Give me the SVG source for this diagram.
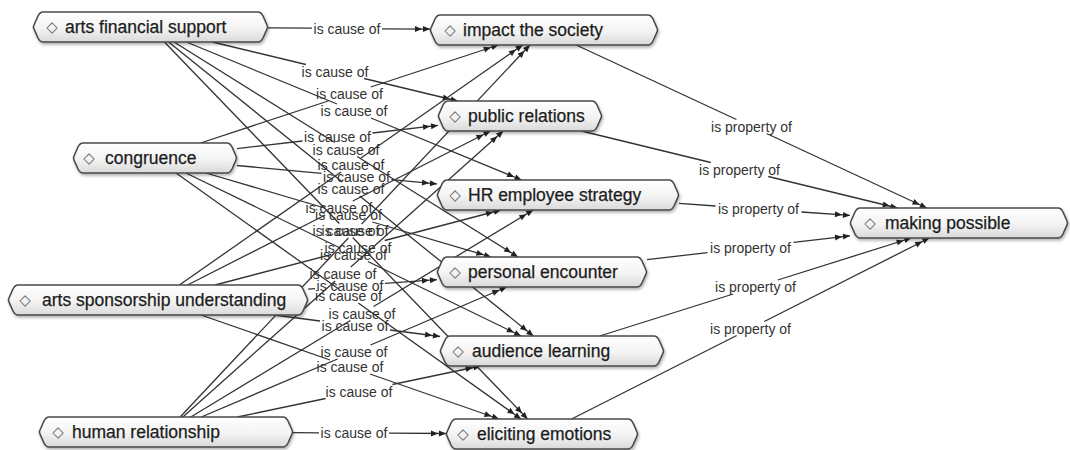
<svg xmlns="http://www.w3.org/2000/svg" width="1070" height="450" viewBox="0 0 1070 450">
  <style>
    .conn path { fill: none; stroke: #333; stroke-width: 1.3; }
    .conn path.a { marker-end: url(#arr); }
    .lbl { font-family: "Liberation Sans", Arial, sans-serif; font-size: 14px; fill: #333; text-anchor: middle; }
    .box { fill: url(#nodeFill); stroke: #4a4a4a; stroke-width: 1.6; stroke-linejoin: round; filter: url(#shadow); }
    .name { font-family: "Liberation Sans", Arial, sans-serif; font-size: 17.5px; fill: #1c1c1c; stroke: #1c1c1c; stroke-width: 0.25; }
    .icon { font-family: "DejaVu Sans", sans-serif; font-size: 15px; fill: #666; text-anchor: middle; }
  </style>
  <defs>
    <linearGradient id="nodeFill" x1="0" y1="0" x2="0" y2="1">
      <stop offset="0" stop-color="#ffffff"/>
      <stop offset="0.55" stop-color="#f3f3f3"/>
      <stop offset="1" stop-color="#d9d9d9"/>
    </linearGradient>
    <filter id="shadow" x="-5%" y="-20%" width="110%" height="160%">
      <feDropShadow dx="1" dy="2" stdDeviation="1.5" flood-color="#000" flood-opacity="0.3"/>
    </filter>
    <marker id="arr" viewBox="-16 -4 17 8" refX="0" refY="0" markerWidth="17" markerHeight="8" orient="auto" markerUnits="userSpaceOnUse">
      <path d="M0,0 L-7,-3 L-7,3 Z M-8,0 L-15,-3 L-15,3 Z" fill="#222"/>
    </marker>
  </defs>
  <rect width="1070" height="450" fill="#ffffff"/>

  <!-- connectors: each link is split around its label -->
  <g id="connectors" class="conn">
    <!-- arts financial support -->
    <path d="M268,27.9 L312,28.2"/><path class="a" d="M382,28.8 L430,29.1"/>
    <path d="M212.3,42 L305.9,64.5"/><path class="a" d="M364.1,78.5 L457.7,101"/>
    <path d="M186.4,42 L337,104"/><path class="a" d="M371,118 L521.6,180"/>
    <path d="M174,42 L334.8,142.5"/><path class="a" d="M357.2,156.5 L518,257"/>
    <path d="M168.6,42 L342.3,182"/><path class="a" d="M359.7,196 L533.4,336"/>
    <path d="M164.4,42 L339.3,223.5"/><path class="a" d="M352.7,237.5 L527.6,419"/>
    <!-- congruence -->
    <path d="M200.6,143 L328.2,101"/><path class="a" d="M370.8,87 L498.4,45"/>
    <path d="M237,148.6 L302.5,141"/><path class="a" d="M372.5,133 L438,125.4"/>
    <path d="M237,165.5 L321.5,173.3"/><path class="a" d="M391.5,179.7 L437,183.9"/>
    <path d="M205.9,173 L324.7,208"/><path class="a" d="M372.3,222 L491.1,257"/>
    <path d="M185.9,173 L339.1,247.5"/><path class="a" d="M367.9,261.5 L521.1,336"/>
    <path d="M176,173 L338.7,289"/><path class="a" d="M358.3,303 L521,419"/>
    <!-- arts sponsorship understanding -->
    <path d="M179.4,285 L341,172"/><path class="a" d="M361,158 L522.6,45"/>
    <path d="M187.5,285 L325.2,215"/><path class="a" d="M352.8,201 L490.5,131"/>
    <path d="M215.1,285 L331.3,254.5"/><path class="a" d="M384.7,240.5 L500.9,210"/>
    <path d="M308,289.1 L315,288.6"/><path class="a" d="M385,283.4 L437,279.7"/>
    <path d="M273.9,315 L320,321"/><path class="a" d="M390,330 L440,336.5"/>
    <path d="M201,315 L330,360"/><path class="a" d="M370,374 L499,419"/>
    <!-- human relationship -->
    <path d="M180.1,417 L348.4,238"/><path class="a" d="M361.6,224 L529.9,45"/>
    <path d="M182.8,417 L335.2,281"/><path class="a" d="M350.8,267 L503.2,131"/>
    <path d="M190.8,417 L350.4,320.5"/><path class="a" d="M373.6,306.5 L533.2,210"/>
    <path d="M201.3,417 L337.5,359"/><path class="a" d="M370.5,345 L506.7,287"/>
    <path d="M237.5,417 L325.6,398.5"/><path class="a" d="M392.4,384.5 L480.5,366"/>
    <path d="M293,432.7 L319,432.8"/><path class="a" d="M389,433.2 L446,433.5"/>
    <!-- into making possible -->
    <path d="M576.2,45 L736.4,119.5"/><path class="a" d="M766.6,133.5 L926.8,208"/>
    <path d="M581.5,131 L710.8,162.5"/><path class="a" d="M768.2,176.5 L897.5,208"/>
    <path d="M679,203.4 L715.5,206"/><path class="a" d="M801.5,212 L850,215.4"/>
    <path d="M647,259.7 L707.5,252.6"/><path class="a" d="M793.5,242.4 L850,235.8"/>
    <path d="M599.7,336 L733.2,294"/><path class="a" d="M777.8,280 L911.3,238"/>
    <path d="M571.6,419 L736.7,335.5"/><path class="a" d="M764.3,321.5 L929.4,238"/>

    <!-- link labels -->
    <text class="lbl" x="347" y="33.5">is cause of</text>
    <text class="lbl" x="335" y="76.5">is cause of</text>
    <text class="lbl" x="354" y="116">is cause of</text>
    <text class="lbl" x="346" y="154.5">is cause of</text>
    <text class="lbl" x="351" y="194">is cause of</text>
    <text class="lbl" x="346" y="235.5">is cause of</text>
    <text class="lbl" x="349.5" y="99">is cause of</text>
    <text class="lbl" x="337.5" y="142">is cause of</text>
    <text class="lbl" x="356.5" y="181.5">is cause of</text>
    <text class="lbl" x="348.5" y="220">is cause of</text>
    <text class="lbl" x="353.5" y="259.5">is cause of</text>
    <text class="lbl" x="348.5" y="301">is cause of</text>
    <text class="lbl" x="351" y="170">is cause of</text>
    <text class="lbl" x="339" y="213">is cause of</text>
    <text class="lbl" x="358" y="252.5">is cause of</text>
    <text class="lbl" x="350" y="291">is cause of</text>
    <text class="lbl" x="355" y="330.5">is cause of</text>
    <text class="lbl" x="350" y="372">is cause of</text>
    <text class="lbl" x="355" y="236">is cause of</text>
    <text class="lbl" x="343" y="279">is cause of</text>
    <text class="lbl" x="362" y="318.5">is cause of</text>
    <text class="lbl" x="354" y="357">is cause of</text>
    <text class="lbl" x="359" y="396.5">is cause of</text>
    <text class="lbl" x="354" y="438">is cause of</text>
    <text class="lbl" x="751.5" y="131.5">is property of</text>
    <text class="lbl" x="739.5" y="174.5">is property of</text>
    <text class="lbl" x="758.5" y="214">is property of</text>
    <text class="lbl" x="750.5" y="252.5">is property of</text>
    <text class="lbl" x="755.5" y="292">is property of</text>
    <text class="lbl" x="750.5" y="333.5">is property of</text>
  </g>

  <!-- concepts -->
  <g id="arts-financial-support">
    <path class="box" d="M43,12 H258 Q261,12 263,16 L267,25 Q268,27 267,29 L263,38 Q261,42 258,42 H43 Q40,42 38,38 L34,29 Q33,27 34,25 L38,16 Q40,12 43,12 Z"/>
    <text class="icon" x="52" y="32">◇</text>
    <text class="name" x="65" y="33">arts financial support</text>
  </g>
  <g id="congruence">
    <path class="box" d="M83,143 H227 Q230,143 232,147 L236,156 Q237,158 236,160 L232,169 Q230,173 227,173 H83 Q80,173 78,169 L74,160 Q73,158 74,156 L78,147 Q80,143 83,143 Z"/>
    <text class="icon" x="89" y="163">◇</text>
    <text class="name" x="105" y="164">congruence</text>
  </g>
  <g id="arts-sponsorship-understanding">
    <path class="box" d="M18,285 H298 Q301,285 303,289 L307,298 Q308,300 307,302 L303,311 Q301,315 298,315 H18 Q15,315 13,311 L9,302 Q8,300 9,298 L13,289 Q15,285 18,285 Z"/>
    <text class="icon" x="25" y="305">◇</text>
    <text class="name" x="42" y="306">arts sponsorship understanding</text>
  </g>
  <g id="human-relationship">
    <path class="box" d="M49,417 H283 Q286,417 288,421 L292,430 Q293,432 292,434 L288,443 Q286,447 283,447 H49 Q46,447 44,443 L40,434 Q39,432 40,430 L44,421 Q46,417 49,417 Z"/>
    <text class="icon" x="58" y="437">◇</text>
    <text class="name" x="72" y="438">human relationship</text>
  </g>
  <g id="impact-the-society">
    <path class="box" d="M440,15 H648 Q651,15 653,19 L657,28 Q658,30 657,32 L653,41 Q651,45 648,45 H440 Q437,45 435,41 L431,32 Q430,30 431,28 L435,19 Q437,15 440,15 Z"/>
    <text class="icon" x="450" y="35">◇</text>
    <text class="name" x="463" y="36">impact the society</text>
  </g>
  <g id="public-relations">
    <path class="box" d="M448,101 H592 Q595,101 597,105 L601,114 Q602,116 601,118 L597,127 Q595,131 592,131 H448 Q445,131 443,127 L439,118 Q438,116 439,114 L443,105 Q445,101 448,101 Z"/>
    <text class="icon" x="455" y="121">◇</text>
    <text class="name" x="468" y="122">public relations</text>
  </g>
  <g id="hr-employee-strategy">
    <path class="box" d="M447,180 H669 Q672,180 674,184 L678,193 Q679,195 678,197 L674,206 Q672,210 669,210 H447 Q444,210 442,206 L438,197 Q437,195 438,193 L442,184 Q444,180 447,180 Z"/>
    <text class="icon" x="455" y="200">◇</text>
    <text class="name" x="468" y="201">HR employee strategy</text>
  </g>
  <g id="personal-encounter">
    <path class="box" d="M447,257 H637 Q640,257 642,261 L646,270 Q647,272 646,274 L642,283 Q640,287 637,287 H447 Q444,287 442,283 L438,274 Q437,272 438,270 L442,261 Q444,257 447,257 Z"/>
    <text class="icon" x="455" y="277">◇</text>
    <text class="name" x="468" y="278">personal encounter</text>
  </g>
  <g id="audience-learning">
    <path class="box" d="M450,336 H654 Q657,336 659,340 L663,349 Q664,351 663,353 L659,362 Q657,366 654,366 H450 Q447,366 445,362 L441,353 Q440,351 441,349 L445,340 Q447,336 450,336 Z"/>
    <text class="icon" x="458" y="356">◇</text>
    <text class="name" x="472" y="357">audience learning</text>
  </g>
  <g id="eliciting-emotions">
    <path class="box" d="M456,419 H628 Q631,419 633,423 L637,432 Q638,434 637,436 L633,445 Q631,449 628,449 H456 Q453,449 451,445 L447,436 Q446,434 447,432 L451,423 Q453,419 456,419 Z"/>
    <text class="icon" x="463" y="439">◇</text>
    <text class="name" x="477" y="440">eliciting emotions</text>
  </g>
  <g id="making-possible">
    <path class="box" d="M860,208 H1058 Q1061,208 1063,212 L1067,221 Q1068,223 1067,225 L1063,234 Q1061,238 1058,238 H860 Q857,238 855,234 L851,225 Q850,223 851,221 L855,212 Q857,208 860,208 Z"/>
    <text class="icon" x="870" y="228">◇</text>
    <text class="name" x="885" y="229">making possible</text>
  </g>
</svg>
